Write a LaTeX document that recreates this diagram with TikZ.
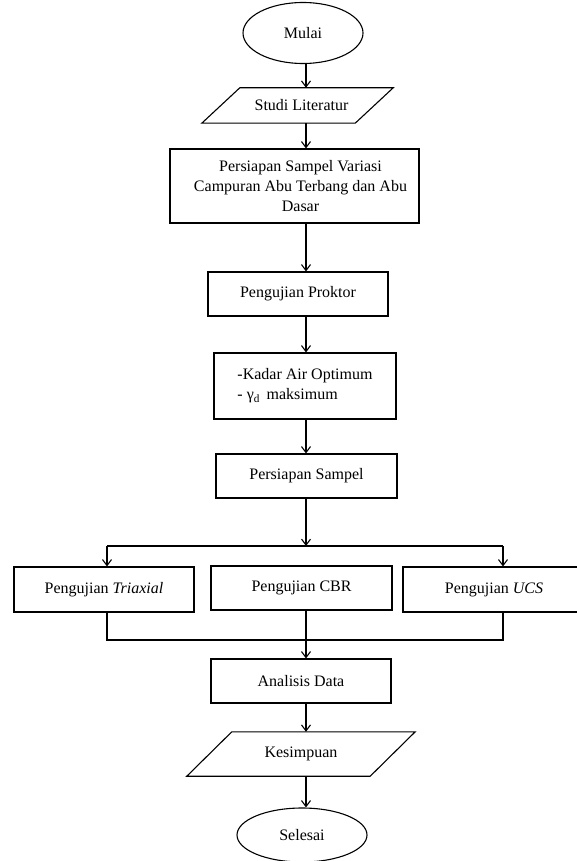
\documentclass[tikz,border=0pt]{standalone}
\usepackage{fontspec}
\setmainfont{Liberation Serif}
\usetikzlibrary{arrows.meta,shapes.geometric}
\begin{document}
\begin{tikzpicture}[x=1pt,y=1pt,
  every node/.style={font=\fontsize{16}{20}\selectfont},
  box/.style={draw,line width=1.1pt,rectangle,inner sep=0pt,align=center},
  oval/.style={draw,line width=1.1pt,ellipse,inner sep=0pt},
  pgnode/.style={rectangle,inner sep=0pt},
  pgline/.style={line width=1.1pt},
  link/.style={line width=1.1pt},
  arr/.style={line width=1.1pt,-{Straight Barb[length=6pt,width=9pt]}}]
\useasboundingbox (0,0) rectangle (577,-861);
\coordinate (ax) at (306,0);
\node[oval,minimum width=120,minimum height=61] (mulai) at (303,-33) {Mulai};
\node[pgnode,minimum width=153,minimum height=35] (studi) at (297.5,-105.5) {\hspace*{8pt}Studi Literatur};
\draw[pgline] ([xshift=19pt]studi.north west) -- ([xshift=19pt]studi.north east) -- ([xshift=-19pt]studi.south east) -- ([xshift=-19pt]studi.south west) -- cycle;
\node[box,minimum width=249,minimum height=74] (persiapan) at (294.5,-186) {\hspace*{12pt}Persiapan Sampel Variasi\\\hspace*{12pt}Campuran Abu Terbang dan Abu\\\hspace*{12pt}Dasar};
\node[box,minimum width=180,minimum height=44] (proktor) at (298,-294) {Pengujian Proktor};
\node[box,minimum width=182,minimum height=66,align=left] (kadar) at (305,-386) {-Kadar Air Optimum\\- γ\textsubscript{d}\, maksimum};
\node[box,minimum width=181,minimum height=44] (sampel) at (306.5,-476) {Persiapan Sampel};
\node[box,minimum width=180,minimum height=45] (triaxial) at (104,-589.5) {Pengujian \textit{Triaxial}};
\node[box,minimum width=181,minimum height=44] (cbr) at (301.5,-588) {Pengujian CBR};
\node[box,minimum width=182,minimum height=45] (ucs) at (494,-589.5) {Pengujian \textit{UCS}};
\node[box,minimum width=180,minimum height=44] (analisis) at (301,-681) {Analisis Data};
\node[pgnode,minimum width=183,minimum height=44] (kesimpulan) at (301,-754) {Kesimpuan};
\draw[pgline] ([xshift=22.5pt]kesimpulan.north west) -- ([xshift=22.5pt]kesimpulan.north east) -- ([xshift=-22.5pt]kesimpulan.south east) -- ([xshift=-22.5pt]kesimpulan.south west) -- cycle;
\node[oval,minimum width=130,minimum height=54] (selesai) at (302,-835) {Selesai};
% main axis
\draw[arr] (mulai.south -| ax) -- (studi.north -| ax);
\draw[arr] (studi.south -| ax) -- (persiapan.north -| ax);
\draw[arr] (persiapan.south -| ax) -- (proktor.north -| ax);
\draw[arr] (proktor.south -| ax) -- (kadar.north -| ax);
\draw[arr] (kadar.south -| ax) -- (sampel.north -| ax);
% split
\coordinate (split) at (306,-546);
\coordinate (lx) at (107,0);
\coordinate (rx) at (503,0);
\coordinate (joinY) at (0,-640);
\draw[arr] (sampel.south -| ax) -- (split);
\draw[link] (split -| lx) -- (split -| rx);
\draw[arr] (split -| lx) -- (triaxial.north -| lx);
\draw[arr] (split -| rx) -- (ucs.north -| rx);
\draw[arr] (cbr.south -| ax) -- (ax |- joinY) -- (analisis.north -| ax);
% join
\draw[link] (triaxial.south -| lx) -- (lx |- joinY) -- (rx |- joinY) -- (ucs.south -| rx);
\draw[arr] (analisis.south -| ax) -- (kesimpulan.north -| ax);
\draw[arr] (kesimpulan.south -| ax) -- (selesai.north -| ax);
\end{tikzpicture}
\end{document}
